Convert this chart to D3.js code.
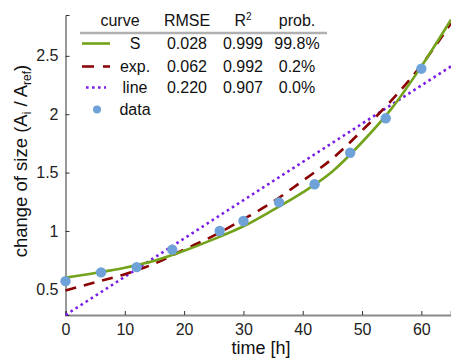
<!DOCTYPE html>
<html>
<head>
<meta charset="utf-8">
<script src="https://cdn.jsdelivr.net/npm/d3@7"></script>
<style>
  body { margin: 0; background: #fff; }
  svg { display: block; font-family: "Liberation Sans", Arial, Helvetica, sans-serif; }
</style>
</head>
<body>
<svg id="chart" width="451" height="362"></svg>
<script>
// measured data
var dataTime = [0, 6, 12, 18, 26, 30, 36, 42, 48, 54, 60];
var dataSize = [0.57, 0.645, 0.69, 0.84, 1.0, 1.085, 1.245, 1.40, 1.67, 1.965, 2.39];

// fitted curves, every 5 h
var curveTime = [0, 5, 10, 15, 20, 25, 30, 35, 40, 45, 50, 55, 60, 65];
var sCurve   = [0.60, 0.64, 0.685, 0.745, 0.83, 0.93, 1.04, 1.18, 1.33, 1.51, 1.76, 2.05, 2.41, 2.81];
var expCurve = [0.49, 0.56, 0.63, 0.72, 0.84, 0.96, 1.10, 1.25, 1.43, 1.62, 1.86, 2.12, 2.42, 2.78];
var lineTime = [0, 65];
var lineCurve = [0.28, 2.41];

// legend table
var legendHeader = ["curve", "RMSE", "R2", "prob."];
var legendNames = ["S", "exp.", "line", "data"];
var legendRMSE = ["0.028", "0.062", "0.220"];
var legendR2 = ["0.999", "0.992", "0.907"];
var legendProb = ["99.8%", "0.2%", "0.0%"];

var xTicks = [0, 10, 20, 30, 40, 50, 60];
var yTicks = [0.5, 1, 1.5, 2, 2.5];

var green = "#73a21b", darkred = "#8b0000", purple = "#7a1ee6", dotblue = "#6fa2d8";

var svg = d3.select("#chart");
var x = d3.scaleLinear().domain([0, 65]).range([65.5, 451]);
var y = d3.scaleLinear().domain([0.28, 2.85]).range([315, 15]);

// axes
var gx = svg.append("g").attr("transform", "translate(0,315)")
	.call(d3.axisBottom(x).tickValues(xTicks).tickSize(-4).tickPadding(9).tickFormat(d3.format("d")));
gx.select(".domain").attr("stroke", "#8a8a8a").attr("stroke-width", 2);
gx.selectAll(".tick line").attr("stroke", "#333");
gx.selectAll(".tick text").attr("font-size", "16px").attr("fill", "#222").attr("font-family", "Liberation Sans, Arial");

var gy = svg.append("g").attr("transform", "translate(65.5,0)")
	.call(d3.axisLeft(y).tickValues(yTicks).tickSize(-4).tickPadding(7).tickFormat(function(d){ return String(d); }));
gy.select(".domain").attr("stroke", "#333").attr("stroke-width", 1);
gy.selectAll(".tick line").attr("stroke", "#333");
gy.selectAll(".tick text").attr("font-size", "16px").attr("fill", "#222").attr("font-family", "Liberation Sans, Arial");

// curves
var plot = svg.append("g");
var lineGen = d3.line().curve(d3.curveMonotoneX);

plot.append("path")
	.attr("d", lineGen(lineTime.map(function(t, i){ return [x(t), y(lineCurve[i])]; })))
	.attr("fill", "none").attr("stroke", purple).attr("stroke-width", 2.6)
	.attr("stroke-dasharray", "2.6,3.4");
plot.append("path")
	.attr("d", lineGen(curveTime.map(function(t, i){ return [x(t), y(expCurve[i])]; })))
	.attr("fill", "none").attr("stroke", darkred).attr("stroke-width", 2.6)
	.attr("stroke-dasharray", "11,8");
plot.append("path")
	.attr("d", lineGen(curveTime.map(function(t, i){ return [x(t), y(sCurve[i])]; })))
	.attr("fill", "none").attr("stroke", green).attr("stroke-width", 2.6);

plot.selectAll("circle.pt").data(dataTime).enter().append("circle")
	.attr("class", "pt")
	.attr("cx", function(d){ return x(d); })
	.attr("cy", function(d, i){ return y(dataSize[i]); })
	.attr("r", 5.2)
	.attr("fill", dotblue);

// legend
var leg = svg.append("g").attr("font-size", "16px").attr("fill", "#111");
var colX = [120, 187, 243, 297];
var headerY = 26, rowY = [49, 72, 93, 115];

legendHeader.forEach(function(h, i){
	var t = leg.append("text").attr("x", colX[i]).attr("y", headerY).attr("text-anchor", "middle");
	if (h == "R2") {
		t.append("tspan").text("R");
		t.append("tspan").attr("dy", -6).attr("font-size", "10px").text("2");
	} else {
		t.text(h);
	}
});
leg.append("line").attr("x1", 80).attr("x2", 327).attr("y1", 33).attr("y2", 33)
	.attr("stroke", "#b0b0b0").attr("stroke-width", 2.5);

legendNames.forEach(function(n, i){
	leg.append("text").attr("x", 135).attr("y", rowY[i]).attr("text-anchor", "middle").text(n);
	if (i < 3) {
		leg.append("text").attr("x", colX[1]).attr("y", rowY[i]).attr("text-anchor", "middle").text(legendRMSE[i]);
		leg.append("text").attr("x", colX[2]).attr("y", rowY[i]).attr("text-anchor", "middle").text(legendR2[i]);
		leg.append("text").attr("x", colX[3]).attr("y", rowY[i]).attr("text-anchor", "middle").text(legendProb[i]);
	}
});
var symY = rowY.map(function(v){ return v - 5.5; });
leg.append("line").attr("x1", 82).attr("x2", 110).attr("y1", symY[0]).attr("y2", symY[0])
	.attr("stroke", green).attr("stroke-width", 2.6);
leg.append("line").attr("x1", 82).attr("x2", 110).attr("y1", symY[1]).attr("y2", symY[1])
	.attr("stroke", darkred).attr("stroke-width", 2.6).attr("stroke-dasharray", "12,9");
leg.append("line").attr("x1", 86).attr("x2", 106).attr("y1", symY[2]).attr("y2", symY[2])
	.attr("stroke", purple).attr("stroke-width", 2.6).attr("stroke-dasharray", "2.6,3.4");
leg.append("circle").attr("cx", 97).attr("cy", symY[3]).attr("r", 4).attr("fill", dotblue);

// axis titles
svg.append("text").attr("x", 261).attr("y", 354).attr("text-anchor", "middle")
	.attr("font-size", "18px").attr("fill", "#111").text("time [h]");

var yl = svg.append("text").attr("transform", "translate(27,161) rotate(-90)")
	.attr("text-anchor", "middle").attr("font-size", "18.5px").attr("fill", "#111");
yl.append("tspan").text("change of size (A");
yl.append("tspan").attr("font-size", "12px").attr("dy", 4).text("i");
yl.append("tspan").attr("dy", -4).text(" / A");
yl.append("tspan").attr("font-size", "12px").attr("dy", 4).text("ref");
yl.append("tspan").attr("dy", -4).text(")");
</script>
</body>
</html>
